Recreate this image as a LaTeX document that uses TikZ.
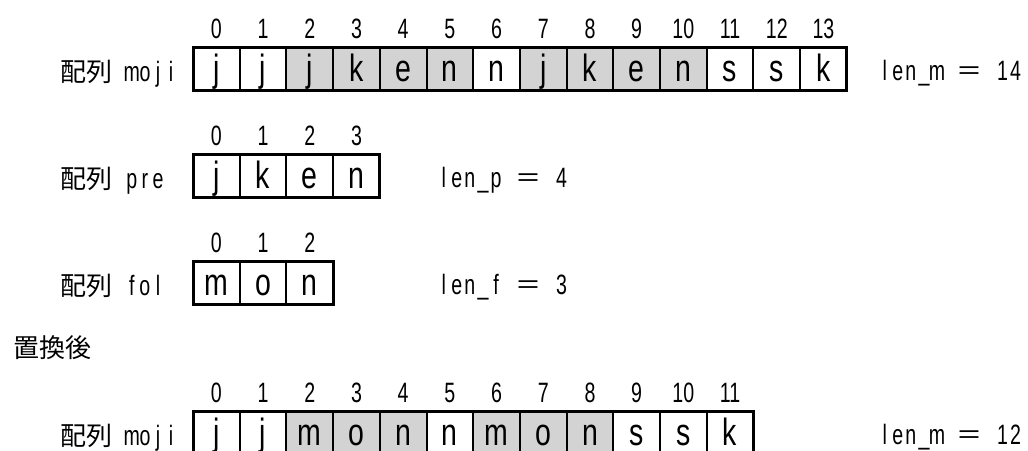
\documentclass[tikz,border=0pt]{standalone}
\usepackage{fontspec}
\setmainfont{Liberation Sans}
\newfontfamily\jp{Noto Sans CJK JP}
\newfontfamily\cellf[FakeStretch=0.75]{Liberation Sans}
\newfontfamily\halff[FakeStretch=0.7]{Liberation Sans}
\newfontfamily\idxf[FakeStretch=0.7]{Liberation Sans}
\definecolor{cellgray}{RGB}{211,211,211}
\newcommand\hw[1]{\makebox[13.1pt]{#1}}
\def\monoloop#1{\ifx#1\relax\else\hw{#1}\expandafter\monoloop\fi}
\newcommand\mono[1]{{\fontsize{28}{30}\halff\monoloop#1\relax}}
\newcommand\jpt[1]{{\fontsize{26}{30}\jp #1}}
\tikzset{
  cell/.style={draw, line width=2pt, minimum width=46.7pt, minimum height=43pt,
    inner sep=0pt, outer sep=0pt, text height=34pt, text depth=9pt,
    font={\fontsize{38}{40}\cellf}},
  idx/.style={anchor=base, inner sep=0pt, font={\fontsize{28}{30}\idxf}},
  lbl/.style={anchor=base west, inner sep=0pt},
  outer/.style={line width=3pt}
}
\begin{document}
\begin{tikzpicture}[x=1pt,y=-1pt]
\useasboundingbox (0,0) rectangle (1028,450);
% ---- top row: moji ----
\foreach \c/\f [count=\i from 0] in {j/white,j/white,j/cellgray,k/cellgray,e/cellgray,n/cellgray,n/white,j/cellgray,k/cellgray,e/cellgray,n/cellgray,s/white,s/white,k/white} {
  \node[cell, fill=\f] (m\i) at ({193+46.7*(\i+0.5)}, 68.5) {\c};
  \node[idx] (mi\i) at ([yshift=9pt]m\i.north) {\i};
}
\draw[outer] (m0.north west) rectangle (m13.south east);
\node[lbl] (lm) at (60,81) {\jpt{配列}\mono{~moji}};
\node[lbl] (lenm) at (878,80) {\mono{len\_m~}\jpt{＝}\mono{~14}};
% ---- pre ----
\foreach \c [count=\i from 0] in {j,k,e,n} {
  \node[cell, fill=white] (p\i) at ({193+46.7*(\i+0.5)}, 175.5) {\c};
  \node[idx] (pi\i) at ([yshift=9pt]p\i.north) {\i};
}
\draw[outer] (p0.north west) rectangle (p3.south east);
\node[lbl] (lp) at (60,188) {\jpt{配列}\mono{~pre}};
\node[lbl] (lenp) at (437,187) {\mono{len\_p~}\jpt{＝}\mono{~4}};
% ---- fol ----
\foreach \c [count=\i from 0] in {m,o,n} {
  \node[cell, fill=white] (f\i) at ({193+46.7*(\i+0.5)}, 282.5) {\c};
  \node[idx] (fi\i) at ([yshift=9pt]f\i.north) {\i};
}
\draw[outer] (f0.north west) rectangle (f2.south east);
\node[lbl] (lf) at (60,295) {\jpt{配列}\mono{~fol}};
\node[lbl] (lenf) at (437,294) {\mono{len\_f~}\jpt{＝}\mono{~3}};
% ---- after ----
\node[lbl] (after) at (13,357) {\jpt{置換後}};
\foreach \c/\f [count=\i from 0] in {j/white,j/white,m/cellgray,o/cellgray,n/cellgray,n/white,m/cellgray,o/cellgray,n/cellgray,s/white,s/white,k/white} {
  \node[cell, fill=\f] (r\i) at ({193+46.7*(\i+0.5)}, 432.5) {\c};
  \node[idx] (ri\i) at ([yshift=9pt]r\i.north) {\i};
}
\draw[outer] (r0.north west) rectangle (r11.south east);
\node[lbl] (lr) at (60,445) {\jpt{配列}\mono{~moji}};
\node[lbl] (lenr) at (878,444) {\mono{len\_m~}\jpt{＝}\mono{~12}};
\end{tikzpicture}
\end{document}
